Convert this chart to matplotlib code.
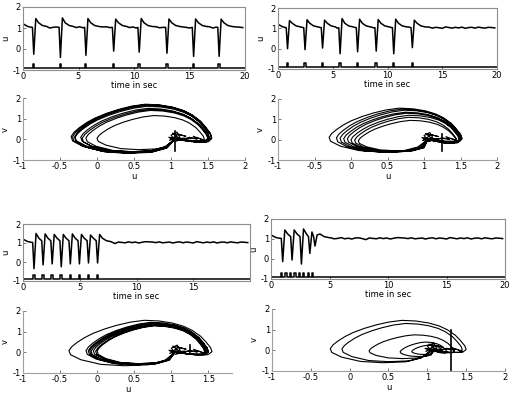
import matplotlib
matplotlib.use('Agg')
import matplotlib.pyplot as plt
import numpy as np

plt.rcParams.update({
    'font.family': 'DejaVu Sans',
    'font.size': 6,
})

# ---------------- time traces: stimulus pulses and spikes ----------------
TL_PULSES = [0.9, 3.3, 5.6, 8.1, 10.4, 12.9, 15.3, 17.6]
TL_ONSETS = [0.85, 3.25, 5.55, 8.05, 10.35, 12.85, 15.25, 17.55]
TL_TROUGHS = [-0.25, -0.4, -0.3, -0.1, -0.15, -0.2, -0.35, -0.35]
TL_PEAKS = [1.45, 1.48, 1.45, 1.42, 1.45, 1.43, 1.43, 1.42]

TR_PULSES = [0.8, 2.4, 4.0, 5.6, 7.2, 8.9, 10.5, 12.2]
TR_ONSETS = [0.75, 2.35, 3.95, 5.55, 7.15, 8.85, 10.45, 12.15]
TR_TROUGHS = [0.0, -0.05, 0.03, -0.25, -0.15, -0.12, -0.25, 0.05]
TR_PEAKS = [1.38, 1.42, 1.4, 1.48, 1.45, 1.43, 1.45, 1.4]

BL_PULSES = [0.9, 1.7, 2.5, 3.3, 4.1, 4.9, 5.7, 6.5]
BL_ONSETS = [0.85, 1.65, 2.45, 3.25, 4.05, 4.85, 5.65, 6.45]
BL_TROUGHS = [-0.35, -0.15, -0.1, -0.25, -0.1, -0.1, -0.05, -0.05]
BL_PEAKS = [1.5, 1.48, 1.45, 1.45, 1.48, 1.45, 1.42, 1.45]

BR_PULSES = [0.85, 1.23, 1.6, 1.98, 2.36, 2.74, 3.12, 3.5]
BR_ONSETS = [0.88, 1.68, 2.48, 3.2, 3.64]
BR_TROUGHS = [-0.13, -0.05, -0.25, 0.28, 0.65]
BR_PEAKS = [1.45, 1.45, 1.5, 1.35, 1.2]

START_U = [1.2, 1.2, 1.2, 1.2]
BASE_U = 1.03
# small baseline fluctuations, one every 0.3 s
WIGGLE = [0.02, -0.01, 0.03, -0.02, 0.01, 0.04, -0.03, 0.0, 0.02, -0.02,
          0.03, 0.01, -0.03, 0.02, -0.01, 0.03, -0.02, 0.0, 0.04, -0.02,
          0.01, -0.03, 0.02, 0.03, -0.01, -0.06, 0.02, 0.0, -0.02, 0.03,
          -0.01, 0.02, -0.03, 0.01, 0.04, 0.03, 0.02, -0.01, 0.03, -0.02,
          0.0, 0.02, -0.03, 0.01, 0.03, -0.02, 0.02, 0.0, -0.03, 0.04,
          0.01, -0.02, 0.02, -0.01, 0.03, -0.03, 0.01, 0.02, -0.02, 0.03,
          0.0, -0.02, 0.02, 0.01, -0.01, 0.02]

SPIKE_DT = [0.0, 0.12, 0.3, 0.55, 0.9, 1.3]
DECAY_U = [1.25, 1.12, 1.07]

# ---------------- phase plane loops (u, v) ----------------
REST = (1.05, 0.0)
# loop shape in fractions of (left..right, bottom..top)
LOOP_S = [0.667, 0.556, 0.389, 0.222, 0.083, 0.011, 0.0, 0.02, 0.056, 0.11,
          0.167, 0.25, 0.333, 0.43, 0.528, 0.63, 0.722, 0.8, 0.861, 0.92,
          0.956, 0.99, 1.0, 0.972, 0.889]
LOOP_W = [0.111, 0.022, 0.0, 0.031, 0.133, 0.244, 0.333, 0.42, 0.511, 0.62,
          0.711, 0.81, 0.889, 0.96, 1.0, 0.985, 0.94, 0.87, 0.78, 0.65,
          0.53, 0.4, 0.31, 0.244, 0.244]

TL_L = [0.0, -0.35, -0.3, -0.22, -0.2, -0.15, -0.3, -0.33]
TL_T = [1.15, 1.7, 1.65, 1.5, 1.45, 1.4, 1.6, 1.68]
TL_R = [1.45, 1.55, 1.52, 1.5, 1.52, 1.5, 1.55, 1.55]
TL_B = [-0.5, -0.65, -0.62, -0.6, -0.65, -0.6, -0.68, -0.66]

TR_L = [0.1, -0.3, -0.2, -0.1, -0.05, 0.0, -0.15, 0.05]
TR_T = [0.95, 1.55, 1.5, 1.35, 1.3, 1.2, 1.45, 1.1]
TR_R = [1.45, 1.52, 1.5, 1.5, 1.48, 1.5, 1.52, 1.45]
TR_B = [-0.55, -0.6, -0.62, -0.6, -0.58, -0.6, -0.62, -0.58]

BL_L = [-0.38, -0.15, -0.1, -0.08, -0.05, 0.0, -0.02, -0.12]
BL_T = [1.55, 1.45, 1.4, 1.38, 1.32, 1.28, 1.3, 1.42]
BL_R = [1.55, 1.5, 1.48, 1.5, 1.46, 1.45, 1.47, 1.5]
BL_B = [-0.65, -0.6, -0.58, -0.6, -0.55, -0.55, -0.57, -0.6]

BR_L = [-0.25, -0.1, 0.25, 0.65, 0.8]
BR_T = [1.45, 1.3, 0.75, 0.4, 0.25]
BR_R = [1.5, 1.45, 1.35, 1.25, 1.2]
BR_B = [-0.6, -0.55, -0.4, -0.3, -0.2]

# noisy knot around the rest point
TANGLE_U = [1.05, 1.0, 1.08, 1.12, 0.98, 1.1, 1.2, 1.02, 1.15, 1.25, 1.35,
            1.3, 1.45, 1.38, 1.1, 0.97, 1.06, 1.18, 1.05]
TANGLE_V = [0.0, 0.2, 0.35, 0.1, -0.05, 0.25, 0.15, 0.3, -0.05, 0.1, 0.0,
            0.15, -0.05, 0.05, 0.05, 0.1, -0.1, 0.05, 0.0]

# initial transient segment in each phase plot
TL_INIT = ([1.05, 1.05], [0.4, -0.55])
TR_INIT = ([1.25, 1.25], [0.3, -0.55])
BL_INIT = ([1.25, 1.25], [0.35, -0.1])
BR_INIT = ([1.3, 1.3], [1.0, -1.0])

TIME_TICKS = [0, 5, 10, 15, 20]
Y_TICKS = [-1, 0, 1, 2]
U_TICKS = [-1, -0.5, 0, 0.5, 1, 1.5, 2]


def build_trace(u0, onsets, troughs, peaks, t_end=20.0):
    pts = [(0.0, u0), (0.4, 1.08)]
    for k, w in enumerate(WIGGLE):
        tk = 0.6 + k * 0.3
        if tk > t_end:
            break
        if any(o - 0.1 < tk < o + 1.4 for o in onsets):
            continue
        pts.append((tk, BASE_U + w))
    for i, o in enumerate(onsets):
        gap = onsets[i + 1] - o if i + 1 < len(onsets) else 99
        pre = 1.12 if i > 0 and o - onsets[i - 1] < 1.3 else BASE_U
        vals = [pre, troughs[i], peaks[i]] + DECAY_U
        for dt, val in zip(SPIKE_DT, vals):
            if dt < gap - 0.05:
                pts.append((o + dt, val))
    pts.sort()
    t, u = zip(*pts)
    return np.array(t), np.array(u)


def build_stim(pulses, width=0.12, lo=-0.92, hi=-0.7):
    t, s = [0.0], [lo]
    for p in pulses:
        t += [p, p, p + width, p + width]
        s += [lo, hi, hi, lo]
    t.append(20.0)
    s.append(lo)
    return t, s


def build_loops(Ls, Ts, Rs, Bs):
    u, v = [REST[0]], [REST[1]]
    for L, T, R, B in zip(Ls, Ts, Rs, Bs):
        u += [L + s * (R - L) for s in LOOP_S] + [REST[0]]
        v += [B + w * (T - B) for w in LOOP_W] + [REST[1]]
    u += TANGLE_U
    v += TANGLE_V
    return u, v


SPINE_C = '#8f8a93'
TICK_FS = 6
LABEL_FS = 6


def fmt(vals):
    return [f'{x:g}' for x in vals]


def style_common(ax):
    ax.tick_params(direction='in', length=2, width=0.5, pad=1.5,
                   labelsize=TICK_FS, colors='#444444', labelcolor='black')


def style_time(ax, xticks):
    ax.set_xlim(0, 20)
    ax.set_ylim(-1, 2)
    ax.set_xticks(xticks)
    ax.set_xticklabels(fmt(xticks))
    ax.set_yticks(Y_TICKS)
    ax.set_yticklabels(fmt(Y_TICKS))
    for sp in ax.spines.values():
        sp.set_color(SPINE_C)
        sp.set_linewidth(0.8)
    style_common(ax)
    ax.set_xlabel('time in sec', fontsize=LABEL_FS, labelpad=0)
    ax.set_ylabel('u', fontsize=LABEL_FS, labelpad=2)


def style_phase(ax, xlim, xticks):
    ax.set_xlim(*xlim)
    ax.set_ylim(-1, 2)
    ax.set_xticks(xticks)
    ax.set_xticklabels(fmt(xticks))
    ax.set_yticks(Y_TICKS)
    ax.set_yticklabels(fmt(Y_TICKS))
    ax.spines['top'].set_visible(False)
    ax.spines['right'].set_visible(False)
    for side in ('left', 'bottom'):
        ax.spines[side].set_color('#9aa0aa')
        ax.spines[side].set_linewidth(0.8)
    style_common(ax)
    ax.set_xlabel('u', fontsize=LABEL_FS, labelpad=1)
    ax.set_ylabel('v', fontsize=LABEL_FS, labelpad=2)


W, H = 518, 393
fig = plt.figure(figsize=(W / 100, H / 100), dpi=100)


def add_axes(x0, y0, x1, y1):
    return fig.add_axes([x0 / W, 1 - y1 / H, (x1 - x0) / W, (y1 - y0) / H])


time_panels = [
    (add_axes(23, 7, 245, 70), TL_PULSES, TL_ONSETS, TL_TROUGHS, TL_PEAKS, START_U[0], TIME_TICKS),
    (add_axes(278, 8, 497, 69), TR_PULSES, TR_ONSETS, TR_TROUGHS, TR_PEAKS, START_U[1], TIME_TICKS),
    (add_axes(23, 224, 250, 281), BL_PULSES, BL_ONSETS, BL_TROUGHS, BL_PEAKS, START_U[2], TIME_TICKS[:-1]),
    (add_axes(271, 219, 505, 279), BR_PULSES, BR_ONSETS, BR_TROUGHS, BR_PEAKS, START_U[3], TIME_TICKS),
]

for ax, pulses, onsets, troughs, peaks, u0, xt in time_panels:
    t, u = build_trace(u0, onsets, troughs, peaks)
    ax.plot(t, u, color='black', lw=1.1)
    st, ss = build_stim(pulses)
    ax.plot(st, ss, color='black', lw=1.1)
    style_time(ax, xt)

phase_panels = [
    (add_axes(23, 98, 245, 160), (TL_L, TL_T, TL_R, TL_B), TL_INIT, (-1, 2), U_TICKS),
    (add_axes(278, 99, 497, 160), (TR_L, TR_T, TR_R, TR_B), TR_INIT, (-1, 2), U_TICKS),
    (add_axes(23, 311, 232, 373), (BL_L, BL_T, BL_R, BL_B), BL_INIT, (-1, 1.82), U_TICKS[:-1]),
    (add_axes(272, 309, 505, 371), (BR_L, BR_T, BR_R, BR_B), BR_INIT, (-1, 2), U_TICKS),
]

for ax, loops, init, xlim, xt in phase_panels:
    u, v = build_loops(*loops)
    ax.plot(u, v, color='black', lw=0.8)
    ax.plot(init[0], init[1], color='black', lw=1.2)
    style_phase(ax, xlim, xt)

fig.savefig('out.png', dpi=100)
